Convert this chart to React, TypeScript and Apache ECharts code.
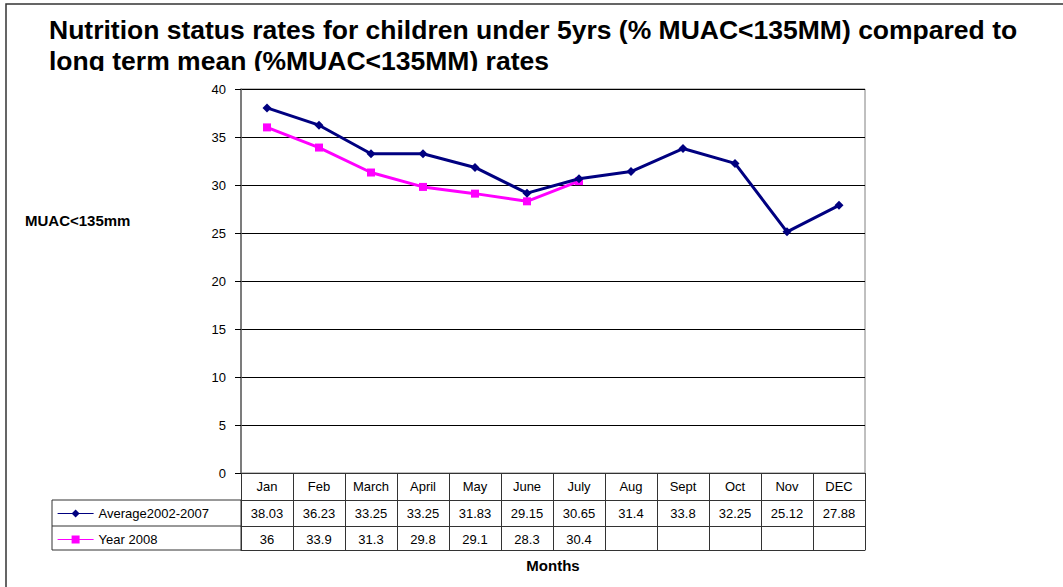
import React, { useEffect, useRef } from "react";
import * as echarts from "echarts";

const months = ["Jan", "Feb", "March", "April", "May", "June", "July", "Aug", "Sept", "Oct", "Nov", "DEC"];
const avgValues: (number | null)[] = [38.03, 36.23, 33.25, 33.25, 31.83, 29.15, 30.65, 31.4, 33.8, 32.25, 25.12, 27.88];
const year2008Values: (number | null)[] = [36, 33.9, 31.3, 29.8, 29.1, 28.3, 30.4, null, null, null, null, null];
const seriesNames = ["Average2002-2007", "Year 2008"];
const titleLines = [
  "Nutrition status rates for children under 5yrs (% MUAC<135MM) compared to",
  "long term mean (%MUAC<135MM) rates",
];
const yAxisTitle = "MUAC<135mm";
const xAxisTitle = "Months";

const FONT = "'Liberation Sans', Arial, sans-serif";
const LINE = "#333333";

export default function App() {
  const ref = useRef<HTMLDivElement>(null);
  useEffect(() => {
    if (!ref.current) return;
    const chart = echarts.init(ref.current, undefined, { renderer: "svg" });
    const fmt = (arr: (number | null)[]) => (_v: string, i: number) =>
      arr[i] === null || arr[i] === undefined ? "" : String(arr[i]);
    const tableAxis = (offset: number, arr: (number | null)[] | null) => ({
      type: "category",
      gridIndex: 0,
      position: "bottom",
      offset,
      data: months,
      boundaryGap: true,
      axisLine: { show: true, lineStyle: { color: LINE, width: 1 } },
      axisTick: { show: false },
      axisLabel: arr
        ? { show: true, interval: 0, margin: 7, color: "#000", fontSize: 13, fontFamily: FONT, formatter: fmt(arr) }
        : { show: false },
      splitLine: { show: false },
    });
    chart.setOption({
      animation: false,
      backgroundColor: "#ffffff",
      textStyle: { fontFamily: FONT },
      grid: {
        left: 241,
        right: 198,
        top: 89,
        bottom: 114,
        show: true,
        borderColor: "#808080",
        borderWidth: 1,
        containLabel: false,
      },
      legend: {
        data: seriesNames,
        orient: "vertical",
        left: 57,
        top: 507,
        padding: 0,
        itemWidth: 36,
        itemHeight: 10,
        itemGap: 13,
        textStyle: { color: "#000", fontSize: 13, fontFamily: FONT, lineHeight: 10 },
        lineStyle: { width: 1.2 },
        selectedMode: false,
      },
      xAxis: [
        {
          type: "category",
          gridIndex: 0,
          position: "bottom",
          data: months,
          boundaryGap: true,
          axisLine: { show: true, lineStyle: { color: LINE, width: 1 } },
          axisTick: { show: true, inside: false, length: 77, interval: 0, lineStyle: { color: LINE, width: 1 } },
          axisLabel: { show: true, interval: 0, margin: 7, color: "#000", fontSize: 13, fontFamily: FONT },
          splitLine: { show: false },
        },
        tableAxis(27, avgValues),
        tableAxis(53, year2008Values),
        tableAxis(77, null),
      ],
      yAxis: {
        type: "value",
        min: 0,
        max: 40,
        interval: 5,
        axisLine: { show: true, lineStyle: { color: "#666", width: 1.5 } },
        axisTick: { show: true, inside: false, length: 6, lineStyle: { color: "#000" } },
        axisLabel: { margin: 15, color: "#000", fontSize: 13, fontFamily: FONT },
        splitLine: { show: true, lineStyle: { color: "#000", width: 1 } },
      },
      series: [
        {
          name: seriesNames[0],
          type: "line",
          xAxisIndex: 0,
          data: avgValues,
          color: "#000080",
          lineStyle: { color: "#000080", width: 3 },
          itemStyle: { color: "#000080" },
          symbol: "diamond",
          symbolSize: 9,
          showSymbol: true,
          connectNulls: false,
          z: 3,
        },
        {
          name: seriesNames[1],
          type: "line",
          xAxisIndex: 0,
          data: year2008Values,
          color: "#FF00FF",
          lineStyle: { color: "#FF00FF", width: 3 },
          itemStyle: { color: "#FF00FF" },
          symbol: "rect",
          symbolSize: 8,
          showSymbol: true,
          connectNulls: false,
          z: 2,
        },
      ],
      graphic: [
        {
          type: "rect",
          shape: { x: 6, y: 4, width: 1100, height: 700 },
          style: { fill: "none", stroke: "#333", lineWidth: 1.5 },
          z: 1,
          silent: true,
        },
        {
          type: "text",
          x: 49,
          y: 16,
          style: {
            text: titleLines[0],
            font: `bold 26.5px ${FONT}`,
            fill: "#000",
            verticalAlign: "top",
            align: "left",
          },
          z: 10,
        },
        {
          type: "text",
          x: 49,
          y: 47,
          style: {
            text: titleLines[1],
            font: `bold 26.5px ${FONT}`,
            fill: "#000",
            verticalAlign: "top",
            align: "left",
          },
          z: 10,
        },
        {
          type: "rect",
          shape: { x: 40, y: 71, width: 700, height: 10 },
          style: { fill: "#ffffff", stroke: "none" },
          z: 20,
          silent: true,
        },
        {
          type: "rect",
          shape: { x: 52, y: 500, width: 189, height: 50 },
          style: { fill: "none", stroke: LINE, lineWidth: 1 },
          z: 5,
          silent: true,
        },
        {
          type: "line",
          shape: { x1: 52, y1: 526, x2: 241, y2: 526 },
          style: { stroke: LINE, lineWidth: 1 },
          z: 5,
          silent: true,
        },
        {
          type: "text",
          x: 25,
          y: 220,
          style: {
            text: yAxisTitle,
            font: `bold 15px ${FONT}`,
            fill: "#000",
            verticalAlign: "middle",
            align: "left",
          },
        },
        {
          type: "text",
          x: 553,
          y: 565,
          style: {
            text: xAxisTitle,
            font: `bold 15px ${FONT}`,
            fill: "#000",
            verticalAlign: "middle",
            align: "center",
          },
        },
      ],
    });
    return () => chart.dispose();
  }, []);
  return (
    <div
      ref={ref}
      style={{ position: "fixed", left: 0, top: 0, width: 1063, height: 587, background: "#fff" }}
    />
  );
}
